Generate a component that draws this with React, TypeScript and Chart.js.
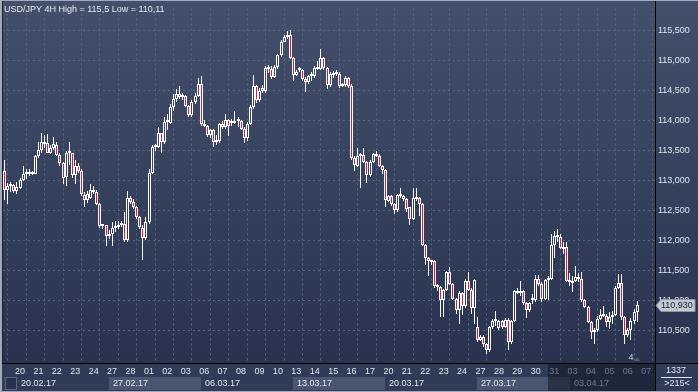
import React, { useEffect, useRef } from "react";
import { Chart, registerables } from "chart.js";

Chart.register(...registerables);

const TITLE = "USD/JPY 4H High = 115,5 Low = 110,11";
const FIRST_BAR = -4; // bars before the first day label (17.02)
const BARS_PER_DAY = 6;
const DAYS_PER_WEEK = 5;

const opens = [
  113.15, 112.84, 112.90, 112.92, 112.82, 112.88, 113.00, 113.11, 113.14, 113.11,
  113.11, 113.41, 113.51, 113.63, 113.62, 113.46, 113.53, 113.59, 113.42, 113.29,
  113.06, 113.45, 113.45, 113.08, 113.24, 113.15, 112.75, 112.67, 112.71, 112.84,
  112.81, 112.61, 112.24, 112.25, 112.08, 112.11, 112.21, 112.22, 112.26, 112.27,
  112.00, 112.70, 112.64, 112.55, 112.39, 112.21, 112.04, 112.30, 113.12, 113.57,
  113.55, 113.78,
  113.64, 113.97, 113.96, 114.22, 114.35, 114.43, 114.38, 114.40, 114.24, 114.08,
  114.30, 114.40, 114.60, 113.93, 113.90, 113.75, 113.84, 113.64, 113.66, 113.93,
  113.88, 114.00, 113.99, 113.95, 113.99, 113.99, 113.86, 113.70, 113.94, 114.22,
  114.57, 114.33, 114.53, 114.48, 114.87, 114.86, 114.72, 114.88, 115.08, 115.31,
  115.39, 115.42, 115.04, 114.76, 114.86, 114.84, 114.68, 114.63, 114.77, 114.73,
  114.87, 114.86, 115.03, 114.87, 114.58, 114.78, 114.80, 114.77, 114.57, 114.58,
  114.70, 114.57, 113.37, 113.24, 113.40, 113.42, 113.30, 113.08, 113.30, 113.44,
  113.41, 113.24, 113.17, 112.66, 112.74, 112.60, 112.50, 112.75, 112.74, 112.69,
  112.55, 112.36, 112.73, 112.71, 112.60, 111.92, 111.70, 111.64, 111.66, 111.24,
  111.22, 111.00, 111.17, 111.47, 111.27, 111.02, 110.84, 111.13, 110.91, 111.33,
  111.18, 110.88,
  110.56, 110.35, 110.40, 110.28, 110.17, 110.55, 110.66, 110.54, 110.66, 110.56,
  110.67, 110.31, 110.66, 111.15, 111.12, 111.15, 110.96, 110.84, 111.04, 111.00,
  111.35, 111.28, 111.02, 111.34, 111.36, 111.92, 112.08, 112.06, 111.85, 111.89,
  111.32, 111.29, 111.32, 111.39, 111.35, 111.00, 110.89, 110.64, 110.47, 110.50,
  110.69, 110.75, 110.74, 110.64, 110.73, 110.76, 111.21, 111.29, 110.72, 110.42,
  110.50, 110.66, 110.80,
];

const highs = [
  113.33, 112.96, 112.97, 112.93, 112.97, 113.04, 113.24, 113.18, 113.18, 113.15,
  113.42, 113.63, 113.78, 113.75, 113.77, 113.59, 113.72, 113.64, 113.45, 113.31,
  113.48, 113.63, 113.46, 113.33, 113.29, 113.18, 112.80, 112.82, 112.93, 112.90,
  112.84, 112.63, 112.28, 112.26, 112.17, 112.30, 112.33, 112.33, 112.33, 112.47,
  112.82, 112.74, 112.69, 112.58, 112.41, 112.25, 112.39, 113.18, 113.59, 113.61,
  113.88, 113.79,
  114.05, 114.11, 114.27, 114.44, 114.52, 114.57, 114.45, 114.42, 114.26, 114.34,
  114.45, 114.71, 114.73, 114.00, 113.92, 113.86, 113.86, 113.76, 113.95, 113.98,
  114.11, 114.02, 114.02, 114.15, 114.06, 114.00, 113.88, 113.97, 114.25, 114.76,
  114.58, 114.54, 114.58, 114.90, 114.92, 114.90, 114.92, 115.10, 115.33, 115.42,
  115.48, 115.50, 115.06, 114.84, 114.88, 114.86, 114.72, 114.76, 114.80, 114.90,
  114.98, 115.19, 115.05, 114.88, 114.80, 114.82, 114.84, 114.80, 114.62, 114.73,
  114.72, 114.60, 113.40, 113.53, 113.46, 113.53, 113.32, 113.33, 113.46, 113.48,
  113.43, 113.26, 113.18, 112.76, 112.76, 112.62, 112.77, 112.88, 112.76, 112.70,
  112.56, 112.87, 112.88, 112.72, 112.62, 111.94, 111.73, 111.68, 111.68, 111.27,
  111.24, 111.19, 111.49, 111.56, 111.29, 111.04, 111.15, 111.14, 111.35, 111.47,
  111.20, 111.36,
  110.73, 110.42, 110.42, 110.30, 110.57, 110.69, 110.83, 110.68, 110.68, 110.71,
  110.70, 110.68, 111.18, 111.21, 111.32, 111.17, 110.98, 110.98, 111.10, 111.43,
  111.42, 111.30, 111.36, 111.40, 112.11, 112.16, 112.19, 112.10, 111.98, 111.98,
  111.45, 111.40, 111.57, 111.45, 111.48, 111.02, 110.91, 110.66, 110.54, 110.74,
  110.86, 110.90, 110.78, 110.80, 110.83, 111.24, 111.44, 111.44, 110.74, 110.54,
  110.70, 110.85, 110.99,
];

const lows = [
  112.67, 112.60, 112.80, 112.79, 112.77, 112.86, 112.99, 113.02, 113.07, 113.08,
  113.10, 113.37, 113.45, 113.53, 113.45, 113.44, 113.50, 113.40, 113.23, 112.94,
  112.90, 113.26, 113.04, 112.93, 113.12, 112.74, 112.55, 112.63, 112.69, 112.78,
  112.59, 112.21, 112.19, 111.91, 112.03, 111.91, 112.14, 112.19, 112.22, 111.98,
  111.98, 112.60, 112.52, 112.36, 112.19, 111.68, 112.00, 112.28, 113.10, 113.48,
  113.53, 113.45,
  113.61, 113.83, 113.94, 114.16, 114.30, 114.36, 114.33, 114.22, 114.05, 114.06,
  114.27, 114.38, 113.90, 113.88, 113.72, 113.70, 113.56, 113.58, 113.62, 113.86,
  113.86, 113.73, 113.90, 113.93, 113.89, 113.84, 113.62, 113.66, 113.92, 114.18,
  114.28, 114.30, 114.46, 114.46, 114.78, 114.68, 114.70, 114.86, 115.06, 115.30,
  115.35, 115.02, 114.65, 114.74, 114.80, 114.66, 114.47, 114.60, 114.66, 114.70,
  114.84, 114.84, 114.83, 114.52, 114.55, 114.70, 114.74, 114.54, 114.55, 114.56,
  114.54, 113.33, 113.15, 113.22, 112.88, 113.28, 112.96, 113.05, 113.28, 113.38,
  113.22, 113.10, 112.55, 112.64, 112.57, 112.44, 112.48, 112.70, 112.66, 112.47,
  112.25, 112.34, 112.66, 112.41, 111.90, 111.59, 111.40, 111.59, 111.20, 111.15,
  110.72, 110.72, 111.15, 111.25, 111.00, 110.77, 110.61, 110.75, 110.88, 111.16,
  110.77, 110.61,
  110.31, 110.33, 110.22, 110.11, 110.14, 110.52, 110.58, 110.50, 110.52, 110.54,
  110.18, 110.28, 110.64, 111.10, 111.08, 110.92, 110.71, 110.80, 110.94, 110.98,
  111.24, 110.98, 111.00, 111.00, 111.34, 111.70, 111.98, 111.85, 111.78, 111.30,
  111.24, 111.14, 111.30, 111.30, 110.98, 110.87, 110.62, 110.36, 110.27, 110.48,
  110.68, 110.72, 110.55, 110.53, 110.60, 110.74, 111.19, 110.68, 110.27, 110.40,
  110.35, 110.60, 110.64,
];

const closes = [
  112.84, 112.90, 112.92, 112.82, 112.89, 113.00, 113.11, 113.13, 113.11, 113.12,
  113.41, 113.51, 113.63, 113.61, 113.46, 113.53, 113.61, 113.42, 113.29, 113.04,
  113.45, 113.46, 113.08, 113.24, 113.15, 112.77, 112.67, 112.77, 112.84, 112.81,
  112.61, 112.24, 112.25, 112.08, 112.11, 112.21, 112.22, 112.26, 112.28, 112.00,
  112.70, 112.64, 112.55, 112.39, 112.22, 112.04, 112.30, 113.12, 113.56, 113.55,
  113.78, 113.64,
  113.97, 113.99, 114.22, 114.35, 114.43, 114.38, 114.40, 114.24, 114.08, 114.30,
  114.40, 114.60, 113.93, 113.90, 113.75, 113.84, 113.64, 113.66, 113.93, 113.88,
  114.00, 113.91, 113.95, 113.99, 113.98, 113.86, 113.70, 113.94, 114.22, 114.57,
  114.33, 114.48, 114.48, 114.87, 114.86, 114.72, 114.88, 115.08, 115.31, 115.39,
  115.42, 115.04, 114.76, 114.81, 114.83, 114.68, 114.63, 114.74, 114.73, 114.87,
  114.86, 115.03, 114.87, 114.58, 114.77, 114.76, 114.77, 114.57, 114.58, 114.70,
  114.57, 113.37, 113.26, 113.40, 113.43, 113.30, 113.08, 113.30, 113.44, 113.41,
  113.24, 113.17, 112.68, 112.74, 112.60, 112.50, 112.75, 112.74, 112.69, 112.53,
  112.36, 112.71, 112.69, 112.60, 111.92, 111.70, 111.65, 111.66, 111.24, 111.22,
  111.00, 111.17, 111.47, 111.27, 111.02, 110.84, 111.13, 110.91, 111.33, 111.18,
  110.88, 111.34,
  110.34, 110.39, 110.28, 110.17, 110.55, 110.66, 110.65, 110.66, 110.55, 110.67,
  110.31, 110.66, 111.15, 111.12, 111.15, 110.96, 110.84, 110.96, 111.00, 111.35,
  111.28, 111.02, 111.34, 111.36, 111.92, 112.08, 112.06, 111.87, 111.89, 111.32,
  111.30, 111.33, 111.39, 111.35, 111.00, 110.89, 110.64, 110.47, 110.50, 110.69,
  110.75, 110.74, 110.64, 110.73, 110.76, 111.21, 111.29, 110.72, 110.42, 110.50,
  110.66, 110.80, 110.93,
];

const dayLabels = [
  "20", "21", "22", "23", "24", "27", "28", "01", "02", "03",
  "06", "07", "08", "09", "10", "13", "14", "15", "16", "17",
  "20", "21", "22", "23", "24", "27", "28", "29", "30", "31",
  "03", "04", "05", "06", "07",
];
const weekLabels = ["20.02.17", "27.02.17", "06.03.17", "13.03.17", "20.03.17", "27.03.17", "03.04.17"];
const priceTicks = [110.5, 111, 111.5, 112, 112.5, 113, 113.5, 114, 114.5, 115, 115.5];
const barCountText = "1337";
const visibleBarsText = ">215<";
const eventMarkerBar = 200;
const eventMarkerText = "4";
const dimFromBar = 173;

// layout / style constants
const W = 698;
const H = 392;
const PLOT_BOTTOM = 363;
const PLOT_RIGHT = 655;
const X_MIN = -4.56;
const X_MAX = 207.82;
const Y_MIN = 109.959;
const Y_MAX = 115.861;
const FONT = '"Liberation Sans", Arial, sans-serif';
const GRID = "#58657f";
const TEXT = "#e0e6ef";
const RED = "#e3163d";
const AXIS_BG = "#303b57";

const fmt = (v: number) => v.toFixed(3).replace(".", ",");

export default function App() {
  const ref = useRef<HTMLCanvasElement>(null);

  useEffect(() => {
    const canvas = ref.current!;
    const c2d = canvas.getContext("2d")!;
    const plotGrad = c2d.createLinearGradient(0, 0, 0, PLOT_BOTTOM);
    plotGrad.addColorStop(0, "#434f6b");
    plotGrad.addColorStop(1, "#29334f");

    Chart.defaults.font.family = FONT;
    Chart.defaults.font.size = 9;

    const bars = opens.map((_, k) => k + FIRST_BAR);
    const wickData = bars.map((b, k) => ({ x: b, y: [lows[k], highs[k]] }));
    const bodyData = bars.map((b, k) => ({
      x: b,
      y: [Math.min(opens[k], closes[k]), Math.max(opens[k], closes[k])],
    }));
    const bodyColors = bars.map((_, k) => (closes[k] < opens[k] ? RED : plotGrad));

    // snap bar elements (positioned by the scales) to whole pixels for crisp candles
    const snap = {
      id: "snap",
      beforeDatasetsDraw(chart: any) {
        chart.data.datasets.forEach((_: any, di: number) => {
          const meta = chart.getDatasetMeta(di);
          meta.data.forEach((el: any) => {
            const w = el.width;
            const left = Math.round(el.x - w / 2);
            el.x = left + w / 2;
            el.y = Math.round(el.y);
            el.base = Math.round(el.base);
          });
        });
      },
    };

    const decor = {
      id: "decor",
      beforeDraw(chart: any) {
        const c = chart.ctx;
        c.save();
        c.fillStyle = plotGrad;
        c.fillRect(0, 0, W, PLOT_BOTTOM);
        c.fillStyle = AXIS_BG;
        c.fillRect(0, PLOT_BOTTOM, W, H - PLOT_BOTTOM);
        c.restore();
      },
      afterDraw(chart: any) {
        const c = chart.ctx;
        const xs = chart.scales.x;
        const ys = chart.scales.y;
        const area = chart.chartArea;
        c.save();
        c.font = `9px ${FONT}`;

        // week band
        const bandTop = 377;
        const bandH = 13;
        const stubL = Math.round(xs.getPixelForValue(FIRST_BAR));
        const stubR = Math.round(xs.getPixelForValue(0));
        c.fillStyle = "#28314b";
        c.fillRect(stubL, bandTop, stubR - stubL, bandH);
        c.strokeStyle = "#5d6983";
        c.lineWidth = 1;
        c.strokeRect(stubL + 0.5, bandTop + 0.5, stubR - stubL - 1, bandH - 1);
        const weekBars = BARS_PER_DAY * DAYS_PER_WEEK;
        weekLabels.forEach((lab, w) => {
          const l = Math.round(xs.getPixelForValue(w * weekBars));
          const r =
            w < weekLabels.length - 1 ? Math.round(xs.getPixelForValue((w + 1) * weekBars)) : area.right;
          if (w % 2 === 1) {
            c.fillStyle = "#4a566f";
            c.fillRect(l, bandTop, r - l, bandH);
          }
          c.fillStyle = TEXT;
          c.textAlign = "left";
          c.textBaseline = "middle";
          c.fillText(lab, l + 4, bandTop + bandH / 2 + 0.5);
        });

        // dimmed right part of the time axis
        const dimL = Math.round(xs.getPixelForValue(dimFromBar));
        c.fillStyle = "rgba(16,22,38,0.55)";
        c.fillRect(dimL, PLOT_BOTTOM + 1, area.right - dimL, H - PLOT_BOTTOM - 2);

        // event marker
        const mx = xs.getPixelForValue(eventMarkerBar);
        c.fillStyle = "#bcd0ec";
        c.textAlign = "center";
        c.textBaseline = "middle";
        c.fillText(eventMarkerText, mx, 358);
        const tx = xs.getPixelForValue(eventMarkerBar + 2);
        c.fillStyle = "#56637d";
        c.beginPath();
        c.moveTo(tx - 3, 361);
        c.lineTo(tx, 357);
        c.lineTo(tx + 3, 361);
        c.closePath();
        c.fill();

        // separators
        c.fillStyle = "#000";
        c.fillRect(0, PLOT_BOTTOM, W, 1);
        c.fillRect(PLOT_RIGHT, 0, 1, H);

        // bottom-right counters
        c.fillStyle = TEXT;
        c.textAlign = "center";
        c.fillText(barCountText, 676, 371);
        c.fillRect(661, 377, 31, 1);
        c.fillText(visibleBarsText, 677, 384);

        // title
        c.fillStyle = "#e4e9f0";
        c.textAlign = "left";
        c.textBaseline = "alphabetic";
        c.fillText(TITLE, 4, 12);

        // current price tag
        const last = closes[closes.length - 1];
        const py = Math.round(ys.getPixelForValue(last)) + 0.5;
        c.beginPath();
        c.moveTo(PLOT_RIGHT + 1, py);
        c.lineTo(PLOT_RIGHT + 6, py - 6);
        c.lineTo(695, py - 6);
        c.lineTo(695, py + 6);
        c.lineTo(PLOT_RIGHT + 6, py + 6);
        c.closePath();
        c.fillStyle = "#c4c8cf";
        c.fill();
        c.strokeStyle = "#8e96a4";
        c.stroke();
        c.fillStyle = "#13223a";
        c.textBaseline = "middle";
        c.fillText(fmt(last), PLOT_RIGHT + 6, py + 0.5);

        // outer frame
        c.fillStyle = "#a1aaba";
        c.fillRect(0, 0, 2, H);
        c.fillRect(0, 0, W, 1);
        c.fillRect(0, H - 1, W, 1);
        c.fillStyle = "#1a2131";
        c.fillRect(2, 1, 1, PLOT_BOTTOM - 1);
        c.restore();
      },
    };

    const chart = new Chart(canvas, {
      type: "bar",
      data: {
        datasets: [
          {
            label: "wick",
            data: wickData as any,
            backgroundColor: "#f7f7f7",
            borderWidth: 0,
            barThickness: 1,
            grouped: false,
            inflateAmount: 0,
            order: 1,
          } as any,
          {
            label: "body",
            data: bodyData as any,
            backgroundColor: bodyColors as any,
            borderColor: "#ffffff",
            borderWidth: 1,
            borderSkipped: false,
            barThickness: 3,
            minBarLength: 2,
            grouped: false,
            inflateAmount: 0,
            order: 0,
          } as any,
        ],
      },
      options: {
        responsive: false,
        maintainAspectRatio: false,
        animation: false,
        devicePixelRatio: 1,
        events: [],
        layout: { padding: { left: 3, top: 3, right: 0, bottom: 0 } },
        plugins: {
          legend: { display: false },
          tooltip: { enabled: false },
          title: { display: false },
        },
        scales: {
          x: {
            type: "linear",
            position: "bottom",
            min: X_MIN,
            max: X_MAX,
            offset: false,
            afterBuildTicks: (s: any) => {
              s.ticks = dayLabels.map((_, d) => ({ value: d * BARS_PER_DAY }));
            },
            afterFit: (s: any) => {
              s.height = H - PLOT_BOTTOM;
            },
            ticks: {
              autoSkip: false,
              maxRotation: 0,
              minRotation: 0,
              padding: 3,
              labelOffset: 3,
              color: TEXT,
              font: { size: 9, family: FONT },
              callback: (_v: any, i: number) => dayLabels[i],
            },
            grid: { color: GRID, lineWidth: 1, drawTicks: false },
            border: { display: true, color: "#000", width: 1, dash: [2, 3] },
          },
          y: {
            type: "linear",
            position: "right",
            min: Y_MIN,
            max: Y_MAX,
            afterBuildTicks: (s: any) => {
              s.ticks = priceTicks.map((v) => ({ value: v }));
            },
            afterFit: (s: any) => {
              s.width = W - PLOT_RIGHT;
            },
            ticks: {
              padding: 3,
              color: TEXT,
              font: { size: 9, family: FONT },
              callback: (v: any) => fmt(Number(v)),
            },
            grid: { color: GRID, lineWidth: 1, drawTicks: false },
            border: { display: true, color: "#000", width: 1, dash: [2, 3] },
          },
        },
      } as any,
      plugins: [snap, decor],
    });

    return () => chart.destroy();
  }, []);

  return (
    <div style={{ position: "absolute", left: 0, top: 0, width: W, height: H }}>
      <canvas ref={ref} width={W} height={H} style={{ display: "block", width: W, height: H }} />
    </div>
  );
}
